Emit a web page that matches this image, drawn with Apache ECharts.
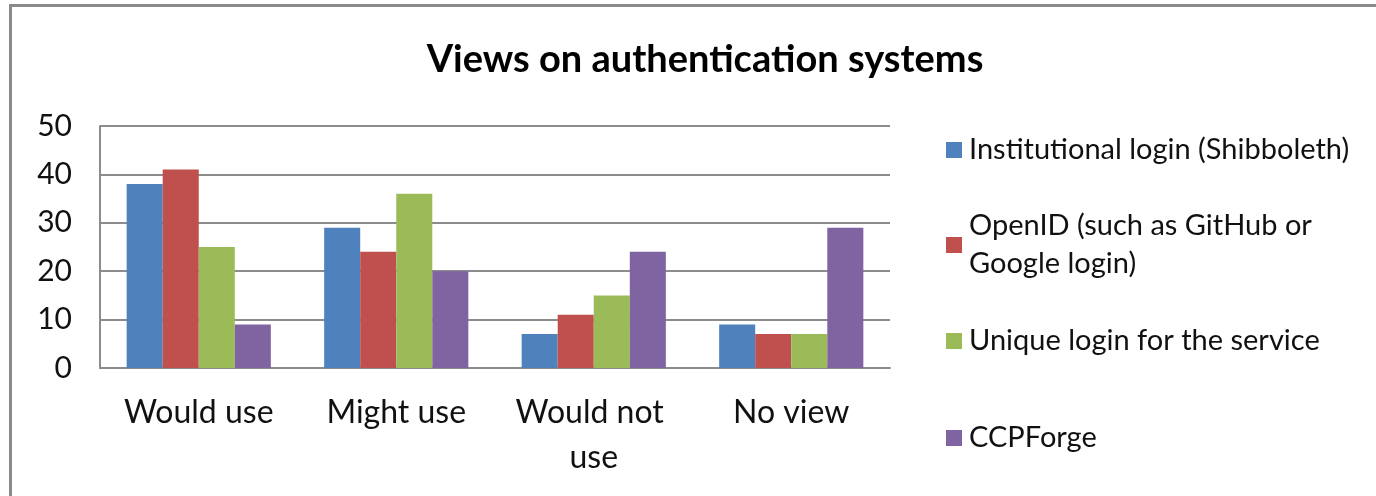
<!DOCTYPE html>
<html>
<head>
<meta charset="utf-8">
<script src="https://cdn.jsdelivr.net/npm/echarts@6/dist/echarts.min.js"></script>
<style>
html,body{margin:0;padding:0;background:#fff;}
#frame{position:absolute;left:9px;top:4px;width:1400px;height:520px;border-left:3px solid #8a8a8a;border-top:3px solid #8a8a8a;box-sizing:border-box;}
#chart{position:absolute;left:0;top:0;width:1376px;height:496px;}
</style>
</head>
<body>
<div id="frame"></div>
<div id="chart"></div>
<script>
const title = 'Views on authentication systems';
const categories = ['Would use', 'Might use', 'Would not use', 'No view'];
const seriesNames = ['Institutional login (Shibboleth)', 'OpenID (such as GitHub or Google login)', 'Unique login for the service', 'CCPForge'];
const legendLabels = ['Institutional login (Shibboleth)', 'OpenID (such as GitHub or\nGoogle login)', 'Unique login for the service', 'CCPForge'];
const institutional = [38, 29, 7, 9];
const openid = [41, 24, 11, 7];
const unique = [25, 36, 15, 7];
const ccpforge = [9, 20, 24, 29];
const yTicks = [0, 10, 20, 30, 40, 50];
const colors = ['#4f81bd', '#c0504d', '#9bbb59', '#8064a2'];

const FONT = 'Lato';
const values = [institutional, openid, unique, ccpforge];
const legendTops = [131, 188, 322, 419];
const chart = echarts.init(document.getElementById('chart'), null, {renderer: 'canvas'});
chart.setOption({
  animation: false,
  backgroundColor: 'transparent',
  title: {
    text: title, left: 700, top: 36, textAlign: 'center',
    textStyle: {fontFamily: FONT, fontWeight: 'bold', fontSize: 38, color: '#000'}
  },
  grid: {left: 100, right: 486, top: 126, bottom: 128, containLabel: false},
  xAxis: {
    type: 'category', data: categories,
    axisLine: {lineStyle: {color: '#8c8c8c', width: 2}},
    axisTick: {show: false},
    axisLabel: {fontFamily: FONT, fontSize: 32, color: '#111', margin: 22, lineHeight: 45, width: 175, overflow: 'break', interval: 0}
  },
  yAxis: {
    type: 'value', min: yTicks[0], max: yTicks[yTicks.length - 1], interval: 10,
    axisLine: {show: true, lineStyle: {color: '#8c8c8c', width: 2}},
    axisTick: {show: false},
    splitLine: {lineStyle: {color: '#8c8c8c', width: 2}},
    axisLabel: {fontFamily: FONT, fontSize: 30, color: '#111', margin: 28}
  },
  legend: seriesNames.map((n, i) => ({
    orient: 'vertical', left: 946, top: legendTops[i], padding: 0,
    itemWidth: 16, itemHeight: 16, itemGap: 0, icon: 'rect',
    data: [{name: n, textStyle: i === 1 ? {padding: [38, 0, 0, 2]} : {}}],
    formatter: () => legendLabels[i],
    textStyle: {fontFamily: FONT, fontSize: 29, color: '#111', lineHeight: 38, padding: [0, 0, 0, 2]}
  })),
  series: seriesNames.map((n, i) => ({
    name: n, type: 'bar', data: values[i],
    barGap: '0%', barCategoryGap: '27%',
    itemStyle: {color: colors[i]}
  }))
});
</script>
</body>
</html>
